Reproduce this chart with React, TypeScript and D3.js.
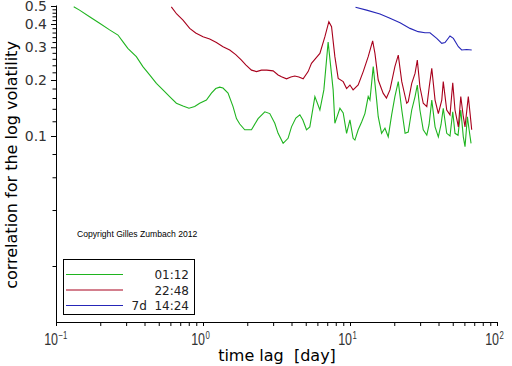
import React, { useEffect, useRef } from 'react';
import * as d3 from 'd3';

// series: time lag [day] / correlation
const seriesNames = ['01:12', '22:48', '7d  14:24'];
const seriesColors = ['#1fb41f', '#a8001c', '#2626b8'];

const greenLag = [0.132, 0.1446, 0.1692, 0.198, 0.2315, 0.264, 0.2857, 0.308, 0.352, 0.39, 0.4335, 0.482, 0.534, 0.593, 0.659, 0.731, 0.803, 0.878, 0.949, 1.055, 1.141, 1.221, 1.299, 1.368, 1.48, 1.601, 1.689, 1.778, 1.923, 2.137, 2.37, 2.633, 2.847, 3.079, 3.243, 3.508, 3.79, 4.0, 4.28, 4.559, 4.78, 5.06, 5.33, 5.77, 6.24, 6.64, 7.1, 7.68, 7.89, 8.54, 8.99, 9.48, 9.99, 10.5, 10.8, 11.37, 12.0, 12.63, 13.3, 13.67, 14.39, 15.18, 15.56, 16.4, 17.29, 18.2, 19.2, 20.2, 21.3, 22.5, 23.7, 24.9, 26.3, 27.7, 28.7, 29.9, 31.5, 33.3, 34.5, 36.0, 37.9, 39.9, 41.6, 43.1, 45.5, 47.9, 50.0, 51.8, 54.3, 56.7, 59.0, 60.6, 62.9, 64.6, 66.6];
const greenVal = [0.495, 0.475, 0.438, 0.404, 0.372, 0.349, 0.321, 0.296, 0.267, 0.236, 0.213, 0.192, 0.177, 0.163, 0.15, 0.145, 0.141, 0.144, 0.15, 0.156, 0.17, 0.18, 0.183, 0.181, 0.17, 0.144, 0.124, 0.116, 0.108, 0.108, 0.124, 0.135, 0.132, 0.117, 0.1034, 0.0913, 0.0972, 0.112, 0.125, 0.13, 0.122, 0.108, 0.112, 0.163, 0.138, 0.177, 0.32, 0.177, 0.117, 0.141, 0.133, 0.1034, 0.122, 0.0972, 0.0951, 0.108, 0.119, 0.132, 0.163, 0.156, 0.236, 0.156, 0.127, 0.1034, 0.11, 0.099, 0.13, 0.163, 0.196, 0.138, 0.1034, 0.105, 0.138, 0.163, 0.188, 0.138, 0.108, 0.101, 0.115, 0.156, 0.112, 0.099, 0.115, 0.141, 0.1034, 0.1, 0.135, 0.1034, 0.101, 0.138, 0.099, 0.0876, 0.127, 0.108, 0.0913];

const redLag = [0.609, 0.662, 0.731, 0.812, 0.892, 1.0, 1.111, 1.234, 1.368, 1.52, 1.67, 1.826, 1.954, 2.137, 2.311, 2.499, 2.716, 3.0, 3.243, 3.42, 3.7, 3.96, 4.21, 4.49, 4.8, 5.19, 5.47, 5.86, 6.24, 6.75, 7.18, 7.49, 7.89, 8.31, 8.99, 9.48, 9.99, 10.5, 11.37, 12.3, 13.3, 14.26, 14.78, 15.56, 16.8, 17.7, 18.7, 20.2, 21.3, 22.5, 24.3, 24.9, 26.3, 27.7, 28.7, 29.9, 31.5, 33.3, 34.6, 36.0, 37.9, 39.9, 42.1, 43.1, 45.5, 47.9, 50.0, 51.8, 54.6, 56.7, 59.0, 60.6, 63.8, 65.6, 67.3];
const redVal = [0.495, 0.453, 0.42, 0.379, 0.358, 0.342, 0.332, 0.318, 0.302, 0.29, 0.274, 0.256, 0.241, 0.226, 0.222, 0.226, 0.226, 0.224, 0.213, 0.208, 0.203, 0.2075, 0.21, 0.2075, 0.203, 0.222, 0.246, 0.262, 0.278, 0.342, 0.412, 0.387, 0.267, 0.204, 0.196, 0.18, 0.188, 0.177, 0.188, 0.222, 0.267, 0.325, 0.278, 0.2, 0.17, 0.16, 0.177, 0.236, 0.272, 0.196, 0.15, 0.153, 0.192, 0.217, 0.256, 0.184, 0.15, 0.144, 0.184, 0.231, 0.156, 0.132, 0.156, 0.196, 0.138, 0.13, 0.1935, 0.138, 0.112, 0.163, 0.127, 0.112, 0.163, 0.132, 0.108];

const blueLag = [10.9, 12.97, 16.0, 18.7, 21.9, 25.6, 29.1, 32.4, 35.0, 38.9, 42.1, 44.3, 47.9, 50.5, 54.6, 57.5, 62.2, 67.3];
const blueVal = [0.492, 0.475, 0.453, 0.429, 0.406, 0.379, 0.364, 0.359, 0.359, 0.335, 0.315, 0.318, 0.345, 0.335, 0.302, 0.29, 0.292, 0.29];

const xMajor = [0.1, 1, 10, 100];
const xExp = ['\u22121', '0', '1', '2'];
const yMajor = [0.1, 0.2, 0.3, 0.4, 0.5];
const yLabels = ['0.1', '0.2', '0.3', '0.4', '0.5'];
const yMinor = [0.02, 0.04, 0.06, 0.08, 0.12, 0.14, 0.16, 0.18, 0.22, 0.24, 0.26, 0.28, 0.32, 0.34, 0.36, 0.38, 0.42, 0.44, 0.46, 0.48];

const App: React.FC = () => {
  const svgRef = useRef<SVGSVGElement>(null);
  const width = 512;
  const height = 366;

  useEffect(() => {
    if (!svgRef.current) return;
    const svg = d3.select(svgRef.current);
    svg.selectAll('*').remove();

    const x = d3.scaleLog().domain([0.1, 100]).range([56, 497]);
    const y = d3.scaleLog().domain([0.01, 0.5]).range([322, 6]);

    // curves
    const line = d3.line<[number, number]>()
      .x(d => x(d[0]))
      .y(d => y(d[1]));
    const series = [
      d3.zip(greenLag, greenVal),
      d3.zip(redLag, redVal),
      d3.zip(blueLag, blueVal),
    ];
    series.forEach((s, i) => {
      svg.append('path')
        .datum(s as [number, number][])
        .attr('fill', 'none')
        .attr('stroke', seriesColors[i])
        .attr('stroke-width', 1.1)
        .attr('d', line);
    });

    // axes
    const xMinor = xMajor.slice(0, 3).flatMap(d => d3.range(2, 10).map(k => k * d));
    const axX = svg.append('g').attr('transform', 'translate(0,322)');
    axX.call(d3.axisBottom(x).tickValues([...xMajor, ...xMinor]).tickSize(4).tickFormat(() => ''));
    axX.select('.domain').remove();
    axX.append('line').attr('x1', 56).attr('x2', 497.5).attr('y1', 0.5).attr('y2', 0.5).attr('stroke', '#000');

    const axY = svg.append('g').attr('transform', 'translate(56,0)');
    axY.call(d3.axisLeft(y).tickValues(yMinor).tickSize(3.5).tickFormat(() => ''));
    axY.select('.domain').remove();
    const axY2 = svg.append('g').attr('transform', 'translate(56,0)');
    axY2.call(d3.axisLeft(y).tickValues(yMajor).tickSize(5).tickPadding(4)
      .tickFormat((_, i) => yLabels[i]));
    axY2.select('.domain').remove();
    axY2.selectAll('text')
      .attr('font-family', 'DejaVu Sans')
      .attr('font-size', 14)
      .attr('fill', '#333');
    svg.append('line').attr('x1', 56.5).attr('x2', 56.5).attr('y1', 5.5).attr('y2', 322)
      .attr('stroke', '#000');

    // x tick labels 10^k
    xMajor.forEach((v, i) => {
      const px = x(v);
      svg.append('text')
        .attr('transform', `translate(${px + 2},345) scale(0.78,1)`)
        .attr('text-anchor', 'end')
        .attr('font-family', 'Liberation Sans')
        .attr('font-size', 16)
        .attr('fill', '#333')
        .text('10');
      svg.append('text')
        .attr('transform', `translate(${px + 2.5},339) scale(0.78,1)`)
        .attr('font-family', 'Liberation Sans')
        .attr('font-size', 10)
        .attr('fill', '#333')
        .text(xExp[i]);
    });

    // axis titles
    svg.append('text')
      .attr('x', 277).attr('y', 361)
      .attr('text-anchor', 'middle')
      .attr('font-family', 'DejaVu Sans')
      .attr('font-size', 16)
      .style('white-space', 'pre')
      .text('time lag  [day]');
    svg.append('text')
      .attr('transform', 'translate(17,165) rotate(-90)')
      .attr('text-anchor', 'middle')
      .attr('font-family', 'DejaVu Sans')
      .attr('font-size', 16)
      .text('correlation for the log volatility');

    // copyright
    svg.append('text')
      .attr('x', 77).attr('y', 237)
      .attr('font-family', 'Liberation Sans')
      .attr('font-size', 8.6)
      .text('Copyright Gilles Zumbach 2012');

    // legend
    const legend = svg.append('g');
    legend.append('rect')
      .attr('x', 63.5).attr('y', 259.5).attr('width', 131).attr('height', 55)
      .attr('fill', '#fff').attr('stroke', '#000');
    seriesNames.forEach((name, i) => {
      const ly = 274.5 + i * 15.5;
      legend.append('line')
        .attr('x1', 66).attr('x2', 123).attr('y1', ly).attr('y2', ly)
        .attr('stroke', seriesColors[i]);
      legend.append('text')
        .attr('x', 189).attr('y', ly + 4.5)
        .attr('text-anchor', 'end')
        .attr('font-family', 'DejaVu Sans')
        .attr('font-size', 12)
        .attr('fill', '#222')
        .style('white-space', 'pre')
        .text(name);
    });
  }, []);

  return (
    <svg
      ref={svgRef}
      width={width}
      height={height}
      style={{ position: 'absolute', left: 0, top: 0, background: '#fff' }}
    />
  );
};

export default App;
